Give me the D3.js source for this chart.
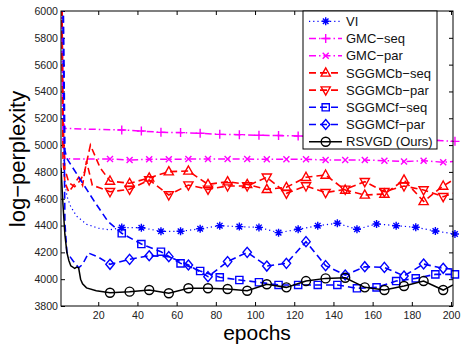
<!DOCTYPE html>
<html>
<head>
<meta charset="utf-8">
<script src="https://cdn.jsdelivr.net/npm/d3@7"></script>
<style>
  body { margin: 0; background: #fff; }
  text { font-family: "Liberation Sans", Arial, Helvetica, sans-serif; }
</style>
</head>
<body>
<svg id="chart"></svg>
<script>

// MARKER EPOCHS (two groups, offset by 6 epochs)
const marksA = [26, 36, 46, 56, 66, 76, 86, 96, 106, 116, 126, 136, 146, 156, 166, 176, 186, 196];
const marksB = [32, 42, 52, 62, 72, 82, 92, 102, 112, 122, 132, 142, 152, 162, 172, 182, 192, 202];

const xTicks = [20, 40, 60, 80, 100, 120, 140, 160, 180, 200];
const yTicks = [3800, 4000, 4200, 4400, 4600, 4800, 5000, 5200, 5400, 5600, 5800, 6000];

// VI
const viEpochs = [1, 2, 3, 4, 6, 9, 14, 20, 26].concat(marksB);
const viValues = [6800, 5100, 4730, 4620, 4540, 4470, 4410, 4380, 4368,
  4385, 4384, 4357, 4357, 4376, 4399, 4392, 4386, 4347, 4372, 4399, 4417, 4372, 4412, 4399, 4387, 4359, 4337];

// GMC-seq
const gmcSeqEpochs = [1, 2, 3, 12, 22].concat(marksB);
const gmcSeqValues = [7000, 5200, 5125, 5120, 5116,
  5113, 5105, 5095, 5093, 5088, 5080, 5078, 5073, 5071, 5068, 5062, 5058, 5055, 5050, 5045, 5040, 5035, 5028];

// GMC-par
const gmcParEpochs = [1, 2, 3, 6, 16].concat(marksA, [201]);
const gmcParValues = [7000, 5000, 4900, 4897, 4896,
  4896, 4889, 4894, 4894, 4896, 4896, 4896, 4896, 4894, 4894, 4894, 4889, 4889, 4889, 4884, 4877, 4884, 4872, 4877];

// SGGMCb-seq
const sgbSeqEpochs = [1, 2, 3, 5, 8, 11, 13, 16, 21].concat(marksA, [201]);
const sgbSeqValues = [7000, 5200, 4820, 4720, 4690, 4740, 4800, 5000, 4830,
  4732, 4715, 4755, 4802, 4807, 4707, 4727, 4707, 4670, 4685, 4760, 4777, 4665, 4628, 4635, 4740, 4580, 4695, 4740];

// SGGMCb-par
const sgbParEpochs = [1, 2, 3, 5, 7, 10, 12, 14, 17, 21].concat(marksA, [201]);
const sgbParValues = [7000, 4900, 4720, 4650, 4690, 4760, 4700, 4880, 4700, 4680,
  4652, 4670, 4740, 4628, 4702, 4670, 4695, 4695, 4760, 4640, 4695, 4645, 4670, 4727, 4652, 4695, 4665, 4615, 4640];

// SGGMCf-seq
const sgfSeqEpochs = [1, 2, 3, 4, 11, 18, 25].concat(marksB);
const sgfSeqValues = [9000, 6300, 4960, 4900, 4740, 4580, 4430,
  4342, 4262, 4205, 4118, 4061, 4014, 3994, 3977, 3957, 3957, 3957, 3957, 3932, 3939, 3986, 4006, 4036, 4036];

// SGGMCf-par
const sgfParEpochs = [1, 2, 3, 4, 7, 10, 12, 15, 20].concat(marksA, [201]);
const sgfParValues = [9000, 6000, 4420, 4200, 4140, 4085, 4110, 4195, 4165,
  4111, 4148, 4175, 4168, 4106, 4019, 4131, 4200, 4098, 4118, 4280, 4101, 4031, 4093, 4088, 4024, 4113, 4081, 4075];

// RSVGD (Ours)
const rsvgdEpochs = [1, 2, 3, 4, 5, 6, 8, 9, 10, 11, 12, 14, 19].concat(marksA, [201]);
const rsvgdValues = [4830, 4560, 4330, 4200, 4140, 4100, 4080, 4090, 4085, 4000, 3965, 3935, 3914,
  3899, 3907, 3919, 3895, 3932, 3932, 3927, 3914, 3962, 3939, 3986, 4006, 4011, 3939, 3919, 3949, 3986, 3919, 3957];

const series = [
  { name: 'VI', epochs: viEpochs, values: viValues, marks: marksB, color: '#0000ff', dash: '1.2,3', width: 1.2, marker: 'star' },
  { name: 'GMC\u2212seq', epochs: gmcSeqEpochs, values: gmcSeqValues, marks: marksB, color: '#ff00ff', dash: '7,3,1.5,3', width: 1.5, marker: 'plus' },
  { name: 'GMC\u2212par', epochs: gmcParEpochs, values: gmcParValues, marks: marksA, color: '#ff00ff', dash: '7,3,1.5,3', width: 1.5, marker: 'cross' },
  { name: 'SGGMCb\u2212seq', epochs: sgbSeqEpochs, values: sgbSeqValues, marks: marksA, color: '#ff0000', dash: '7,4', width: 1.6, marker: 'tri' },
  { name: 'SGGMCb\u2212par', epochs: sgbParEpochs, values: sgbParValues, marks: marksA, color: '#ff0000', dash: '7,4', width: 1.6, marker: 'tridown' },
  { name: 'SGGMCf\u2212seq', epochs: sgfSeqEpochs, values: sgfSeqValues, marks: marksB, color: '#0000ff', dash: '7,4', width: 1.6, marker: 'square' },
  { name: 'SGGMCf\u2212par', epochs: sgfParEpochs, values: sgfParValues, marks: marksA, color: '#0000ff', dash: '7,4', width: 1.6, marker: 'diamond' },
  { name: 'RSVGD (Ours)', epochs: rsvgdEpochs, values: rsvgdValues, marks: marksA, color: '#000000', dash: null, width: 1.5, marker: 'circle' }
];

// MARKER SHAPES
function markerPath(type) {
  switch (type) {
    case 'star': return 'M-4,0H4M0,-4V4M-2.8,-2.8L2.8,2.8M-2.8,2.8L2.8,-2.8';
    case 'plus': return 'M-4.5,0H4.5M0,-4.5V4.5';
    case 'cross': return 'M-3,-3L3,3M-3,3L3,-3';
    case 'tri': return 'M0,-5L4.6,3.2H-4.6Z';
    case 'tridown': return 'M0,5L4.6,-3.2H-4.6Z';
    case 'square': return 'M-3.6,-3.6H3.6V3.6H-3.6Z';
    case 'diamond': return 'M0,-5L4.2,0L0,5L-4.2,0Z';
    case 'circle': return 'M4.5,0A4.5,4.5 0 1,1 -4.5,0A4.5,4.5 0 1,1 4.5,0Z';
  }
}

// DIMENSIONS
const W = 462, H = 345;
const mLeft = 61, mRight = 453, mTop = 11, mBottom = 306;

const svg = d3.select('#chart')
  .attr('width', W)
  .attr('height', H);

const x = d3.scaleLinear().domain([1, 201]).range([mLeft, mRight]);
const y = d3.scaleLinear().domain([3800, 6000]).range([mBottom, mTop]);

svg.append('defs').append('clipPath')
  .attr('id', 'plotclip')
  .append('rect')
  .attr('x', mLeft).attr('y', mTop)
  .attr('width', mRight - mLeft).attr('height', mBottom - mTop);

// AXES (ticks pointing inward, matlab box)
const tickFont = 10.6;

svg.append('g')
  .attr('transform', `translate(${mLeft},0)`)
  .call(d3.axisLeft(y).tickValues(yTicks).tickSize(-4).tickPadding(3).tickFormat(d3.format('d')));

svg.append('g')
  .attr('transform', `translate(0,${mBottom})`)
  .call(d3.axisBottom(x).tickValues(xTicks).tickSize(-4).tickPadding(5).tickFormat(d3.format('d')));

svg.append('g')
  .attr('transform', `translate(${mRight},0)`)
  .call(d3.axisRight(y).tickValues(yTicks).tickSize(-4).tickFormat(''));

svg.append('g')
  .attr('transform', `translate(0,${mTop})`)
  .call(d3.axisTop(x).tickValues(xTicks).tickSize(-4).tickFormat(''));

svg.selectAll('.domain').remove();
svg.selectAll('.tick line').attr('stroke', '#000');
svg.selectAll('.tick text')
  .attr('fill', '#222')
  .style('font-size', tickFont + 'px')
  .style('font-family', '"Liberation Sans", Arial, sans-serif');

// LINES
const plot = svg.append('g');

const line = d3.line()
  .x(d => x(d[0]))
  .y(d => y(d[1]));

series.forEach(s => {
  const pts = s.epochs.map((e, i) => [e, s.values[i]]);
  plot.append('path')
    .datum(pts)
    .attr('clip-path', 'url(#plotclip)')
    .attr('d', line)
    .attr('fill', 'none')
    .attr('stroke', s.color)
    .attr('stroke-width', s.width)
    .attr('stroke-dasharray', s.dash);

  plot.selectAll(null)
    .data(pts.filter(p => s.marks.includes(p[0])))
    .enter()
    .append('path')
    .attr('transform', p => `translate(${x(p[0])},${y(p[1])})`)
    .attr('d', markerPath(s.marker))
    .attr('fill', 'none')
    .attr('stroke', s.color)
    .attr('stroke-width', 1.4);
});

// BOX
svg.append('rect')
  .attr('x', mLeft).attr('y', mTop)
  .attr('width', mRight - mLeft).attr('height', mBottom - mTop)
  .attr('fill', 'none')
  .attr('stroke', '#000')
  .attr('stroke-width', 1);

// AXIS LABELS
svg.append('text')
  .attr('x', 257)
  .attr('y', 340)
  .attr('text-anchor', 'middle')
  .style('font-size', '21px')
  .text('epochs');

svg.append('text')
  .attr('transform', 'translate(25,159) rotate(-90)')
  .attr('text-anchor', 'middle')
  .style('font-size', '22px')
  .text('log\u2212perplexity');

// LEGEND
const lg = svg.append('g');
lg.append('rect')
  .attr('x', 303).attr('y', mTop)
  .attr('width', 134).attr('height', 138)
  .attr('fill', '#fff')
  .attr('stroke', '#000')
  .attr('stroke-width', 1);

series.forEach((s, i) => {
  const ry = 21.3 + i * 17.2;
  lg.append('line')
    .attr('x1', 309).attr('x2', 342)
    .attr('y1', ry).attr('y2', ry)
    .attr('stroke', s.color)
    .attr('stroke-width', s.width)
    .attr('stroke-dasharray', s.dash);
  lg.append('path')
    .attr('transform', `translate(325.7,${ry})`)
    .attr('d', markerPath(s.marker))
    .attr('fill', 'none')
    .attr('stroke', s.color)
    .attr('stroke-width', 1.4);
  lg.append('text')
    .attr('x', 346)
    .attr('y', ry)
    .attr('dy', '0.36em')
    .style('font-size', '13px')
    .attr('fill', '#111')
    .text(s.name);
});

</script>
</body>
</html>
